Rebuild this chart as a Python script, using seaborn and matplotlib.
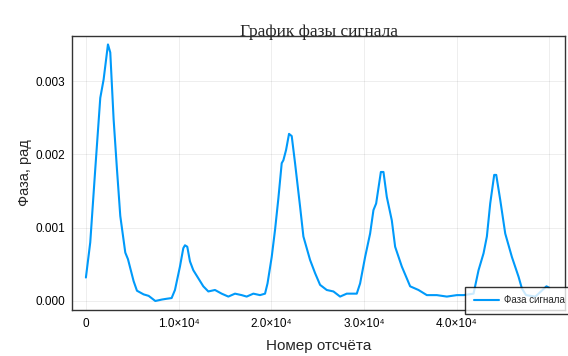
import numpy as np
import pandas as pd
import seaborn as sns
import matplotlib.pyplot as plt

# Signal phase readings (sample number, phase in mrad)
sample_idx = [0, 470, 1010, 1550, 1910, 2380, 2630, 2990, 3350, 3710, 4250, 4540,
              5150, 5510, 6230, 6770, 7490, 8210, 8700, 9250, 9610, 10150, 10510,
              10690, 10940, 11230, 11590, 12130, 12670, 13210, 13930, 14650, 15370,
              16090, 16810, 17350, 18070, 18790, 19330, 19600, 20050, 20410, 20770,
              21130, 21310, 21600, 21920, 22210, 22570, 23110, 23470, 24190, 24730,
              25270, 25990, 26710, 27430, 28150, 29230, 29590, 30130, 30670, 31030,
              31320, 31830, 32110, 32470, 33010, 33370, 34090, 34990, 35890, 36790,
              37870, 38950, 40030, 40750, 41830, 42370, 42910, 43270, 43630, 44060,
              44280, 44710, 45250, 45970, 46690, 47050, 47500, 48500, 49700, 50000]
phase_mrad = [0.32, 0.80, 1.80, 2.77, 3.02, 3.50, 3.39, 2.48, 1.80, 1.16, 0.66, 0.57,
              0.27, 0.14, 0.09, 0.07, 0.00, 0.02, 0.03, 0.04, 0.15, 0.47, 0.72,
              0.76, 0.74, 0.54, 0.42, 0.31, 0.20, 0.13, 0.15, 0.10, 0.06,
              0.10, 0.08, 0.06, 0.10, 0.08, 0.10, 0.24, 0.60, 0.97, 1.40,
              1.88, 1.92, 2.06, 2.28, 2.25, 1.88, 1.29, 0.88, 0.56, 0.38,
              0.22, 0.15, 0.13, 0.06, 0.10, 0.10, 0.24, 0.60, 0.92, 1.24,
              1.33, 1.76, 1.76, 1.42, 1.10, 0.74, 0.47, 0.20, 0.15, 0.08,
              0.08, 0.06, 0.08, 0.08, 0.10, 0.42, 0.65, 0.88, 1.33, 1.72,
              1.72, 1.38, 0.92, 0.60, 0.33, 0.17, 0.08, 0.06, 0.20, 0.18]

x_ticks = [0, 10000, 20000, 30000, 40000, 50000]
x_tick_labels = ["0", "1.0×10⁴", "2.0×10⁴", "3.0×10⁴", "4.0×10⁴", ""]
y_ticks = [0.0, 0.001, 0.002, 0.003]
y_tick_labels = ["0.000", "0.001", "0.002", "0.003"]

df = pd.DataFrame({"n": sample_idx, "phase": np.array(phase_mrad) * 1e-3})

sns.set_style("white")
plt.rcParams['font.family'] = ['Liberation Sans', 'DejaVu Sans']

fig = plt.figure(figsize=(5.68, 3.56), dpi=100)
ax = fig.add_axes([72 / 568, 46 / 356, 493 / 568, 274 / 356])

sns.lineplot(data=df, x="n", y="phase", ax=ax, color="#009AFA", lw=1.5,
             label="Фаза сигнала", legend=False)

ax.set_xlim(-1500, 51700)
ax.set_ylim(-0.000123, 0.003615)
ax.set_xticks(x_ticks)
ax.set_xticklabels(x_tick_labels, fontsize=8.5, color="black")
ax.set_yticks(y_ticks)
ax.set_yticklabels(y_tick_labels, fontsize=8.5, color="black")
ax.grid(True, color="black", alpha=0.08, lw=0.6)
ax.tick_params(direction="in", length=4, width=0.8, color="#333333", pad=6)
ax.tick_params(axis="y", pad=5)

for s in ax.spines.values():
    s.set_color("#333333")
    s.set_linewidth(1.0)

ax.set_title("График фазы сигнала", family=["Liberation Serif", "DejaVu Serif"],
             fontsize=12.5, pad=0)
ax.set_xlabel("Номер отсчёта", fontsize=11, va="center")
ax.set_ylabel("Фаза, рад", fontsize=10.5, va="center")
ax.xaxis.set_label_coords(0.5, (310 - 346) / 274)
ax.yaxis.set_label_coords((25 - 72) / 493, 0.5)

h, l = ax.get_legend_handles_labels()
leg = fig.legend(h, l, loc="lower left", bbox_to_anchor=(465 / 568, 42 / 356),
                 fontsize=7, frameon=True, fancybox=False, handlelength=2.6,
                 handletextpad=0.5, borderpad=0.9, borderaxespad=0)
leg.get_frame().set_edgecolor("black")
leg.get_frame().set_linewidth(1.0)

fig.savefig("out.png", dpi=100)
